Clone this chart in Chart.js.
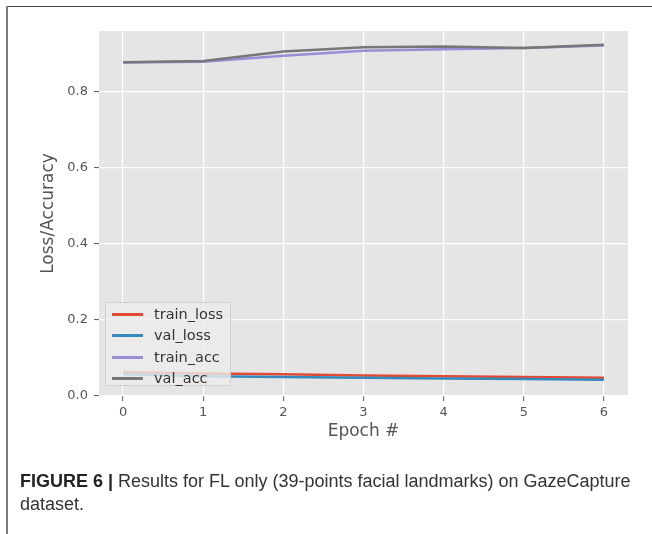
<!DOCTYPE html>
<html><head><meta charset="utf-8">
<script src="https://cdn.jsdelivr.net/npm/chart.js@4.4.1/dist/chart.umd.min.js"></script>
<style>
body{margin:0;background:#fff}
#wrap{position:relative;width:652px;height:534px;overflow:hidden;background:#fff}
#c{position:absolute;left:0;top:0}
#frameTop{position:absolute;left:6px;top:6px;width:646px;height:0;border-top:1.5px solid #444}
#frameLeft{position:absolute;left:6px;top:6px;width:0;height:528px;border-left:2px solid #7d7d7d}
#legend{position:absolute;left:105px;top:302px;width:124px;height:82px;background:rgba(236,236,236,0.8);border:1px solid rgba(205,205,205,0.9);border-radius:3px;font-family:"DejaVu Sans",sans-serif;font-size:14.5px;color:#333}
.row{position:absolute;left:0;width:124px;height:20px}
.hd{position:absolute;left:6px;top:9px;width:31px;height:3px}
.tx{position:absolute;left:48px;top:1px;line-height:18px;white-space:nowrap}
#caption{position:absolute;left:20px;top:470px;font-family:"Liberation Sans",Arial,sans-serif;font-size:18px;line-height:23px;color:#333;white-space:nowrap}
#caption b{color:#222}
</style></head>
<body>
<div id="wrap">
<canvas id="c" width="652" height="534"></canvas>
<div id="frameTop"></div><div id="frameLeft"></div>
<div id="legend"></div>
<div id="caption"><b>FIGURE 6 |</b> Results for FL only (39-points facial landmarks) on GazeCapture<br>dataset.</div>
</div>
<script>
const epochs = [0, 1, 2, 3, 4, 5, 6];
const trainLoss = [0.063, 0.059, 0.057, 0.054, 0.052, 0.050, 0.048];
const valLoss = [0.057, 0.052, 0.050, 0.048, 0.046, 0.045, 0.043];
const trainAcc = [0.877, 0.879, 0.895, 0.908, 0.912, 0.915, 0.922];
const valAcc = [0.878, 0.881, 0.906, 0.917, 0.919, 0.915, 0.924];
const xTicks = [0, 1, 2, 3, 4, 5, 6];
const yTicks = [0.0, 0.2, 0.4, 0.6, 0.8];
const seriesNames = ['train_loss', 'val_loss', 'train_acc', 'val_acc'];
const seriesValues = [trainLoss, valLoss, trainAcc, valAcc];
const seriesColors = ['#E24A33', '#348ABD', '#988ED5', '#777777'];

const datasets = seriesNames.map((name, i) => ({
  label: name,
  data: epochs.map((e, j) => ({x: e, y: seriesValues[i][j]})),
  borderColor: seriesColors[i],
  backgroundColor: seriesColors[i],
  borderWidth: 2.5,
  pointRadius: 0,
  tension: 0,
  fill: false,
  order: seriesNames.length - 1 - i
}));

const bgPlugin = {
  id: 'bg',
  beforeDraw(chart) {
    const {ctx, chartArea: a} = chart;
    ctx.save();
    ctx.fillStyle = '#E5E5E5';
    ctx.fillRect(a.left, a.top, a.right - a.left, a.bottom - a.top);
    ctx.restore();
  }
};

const tickFont = {family: 'DejaVu Sans', size: 13};
const titleFont = {family: 'DejaVu Sans', size: 17};

new Chart(document.getElementById('c'), {
  type: 'line',
  data: {datasets},
  plugins: [bgPlugin],
  options: {
    responsive: false,
    animation: false,
    devicePixelRatio: 1,
    layout: {padding: {left: 38, top: 31, right: 24, bottom: 92}},
    plugins: {legend: {display: false}, tooltip: {enabled: false}},
    scales: {
      x: {
        type: 'linear', min: -0.3, max: 6.3,
        afterBuildTicks: s => { s.ticks = xTicks.map(v => ({value: v})); },
        afterFit: s => { s.height = 46; },
        ticks: {font: tickFont, color: '#555', padding: 4, callback: v => String(v)},
        grid: {color: '#ffffff', lineWidth: 1.2, tickColor: '#555', tickLength: 5, tickWidth: 1},
        border: {display: false},
        title: {display: true, text: 'Epoch #', font: titleFont, color: '#555', padding: 0}
      },
      y: {
        type: 'linear', min: 0, max: 0.96,
        afterBuildTicks: s => { s.ticks = yTicks.map(v => ({value: v})); },
        afterFit: s => { s.width = 61; },
        ticks: {font: tickFont, color: '#555', padding: 6, callback: v => v.toFixed(1)},
        grid: {color: '#ffffff', lineWidth: 1.2, tickColor: '#555', tickLength: 5, tickWidth: 1},
        border: {display: false},
        title: {display: true, text: 'Loss/Accuracy', font: titleFont, color: '#555', padding: 0}
      }
    }
  }
});

const leg = document.getElementById('legend');
seriesNames.forEach((name, i) => {
  const r = document.createElement('div');
  r.className = 'row';
  r.style.top = Math.round(1 + i * 21.3) + 'px';
  r.innerHTML = '<div class="hd" style="background:' + seriesColors[i] + '"></div><div class="tx">' + name + '</div>';
  leg.appendChild(r);
});
</script>
</body></html>
